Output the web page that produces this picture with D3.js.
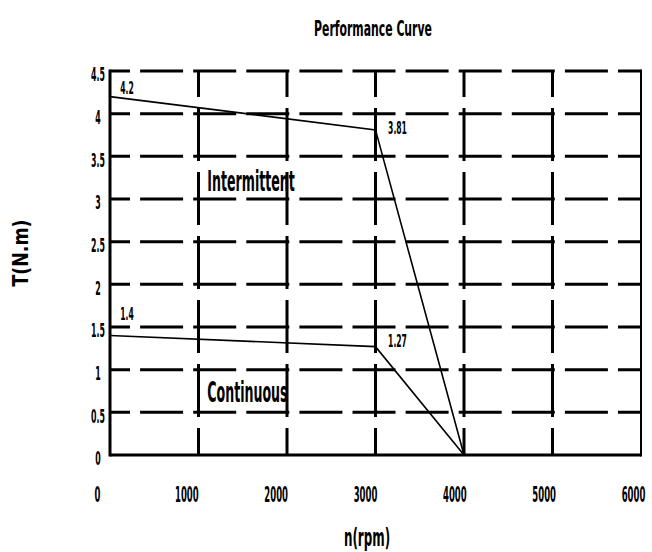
<!DOCTYPE html>
<html>
<head>
<meta charset="utf-8">
<script src="https://cdn.jsdelivr.net/npm/d3@7"></script>
<style>
	body {margin: 0; background: #fff;}
	svg text {font-family: "Liberation Sans Narrow", "DejaVu Sans Condensed", sans-serif; font-weight: bold; fill: #000;}
</style>
</head>
<body>
<svg width="652" height="552"></svg>
<script>
'use strict';
// chart data
let aSpeedTicks = [0, 1000, 2000, 3000, 4000, 5000, 6000]
let aTorqueTicks = [0, 0.5, 1, 1.5, 2, 2.5, 3, 3.5, 4, 4.5]
let aIntermittent = [[0, 4.2], [3000, 3.81], [4000, 0]]
let aContinuous = [[0, 1.4], [3000, 1.27], [4000, 0]]
let aPointLabels = [
	{n: 0, t: 4.2, text: "4.2"},
	{n: 3000, t: 3.81, text: "3.81"},
	{n: 0, t: 1.4, text: "1.4"},
	{n: 3000, t: 1.27, text: "1.27"}]
let aRegionLabels = [
	{n: 1100, t: 3.21, text: "Intermittent"},
	{n: 1100, t: 0.74, text: "Continuous"}]

// label nudges (pixels), same order as aPointLabels
let aLabelNudge = [[17, -9], [22, -2], [17, -22], [22, -6]]

let eSvg = d3.select("svg")

let x = d3.scaleLinear().domain([0, 6000]).range([110, 641])
let xLabel = d3.scaleLinear().domain([0, 6000]).range([97, 633]) // tick text sits a bit left
let y = d3.scaleLinear().domain([0, 4.5]).range([455, 71])

// the drawing font is very narrow, so squeeze the glyphs sideways
function squeeze(sel, k) {
	sel.each(function() {
		let e = d3.select(this)
		let px = +e.attr("x") || 0, py = +e.attr("y") || 0
		let pre = e.attr("transform") || ""
		e.attr("x", 0).attr("y", 0)
			.attr("transform", `${pre} translate(${px},${py}) scale(${k},1)`)})}

// grid
let eGrid = eSvg.append("g").attr("stroke", "#000").attr("fill", "none")
eGrid.selectAll("line.h")
	.data(aTorqueTicks.slice(1))
	.enter().append("line")
	.attr("class", "h")
	.attr("x1", x(0)).attr("x2", x(6000))
	.attr("y1", d => y(d)).attr("y2", d => y(d))
	.attr("stroke-width", 3)
	.attr("stroke-dasharray", "43,10.1")
	.attr("stroke-dashoffset", 23)
eGrid.selectAll("line.v")
	.data(aSpeedTicks.slice(1, -1))
	.enter().append("line")
	.attr("class", "v")
	.attr("x1", d => x(d)).attr("x2", d => x(d))
	.attr("y1", y(4.5)).attr("y2", y(0))
	.attr("stroke-width", 3)
	.attr("stroke-dasharray", "53,11")
	.attr("stroke-dashoffset", 27)
// solid frame: left, bottom, right
eGrid.append("line").attr("x1", x(0)).attr("x2", x(0)).attr("y1", y(4.5) - 1.5).attr("y2", y(0) + 1.5).attr("stroke-width", 3)
eGrid.append("line").attr("x1", x(0)).attr("x2", x(6000)).attr("y1", y(0)).attr("y2", y(0)).attr("stroke-width", 3)
eGrid.append("line").attr("x1", x(6000)).attr("x2", x(6000)).attr("y1", y(4.5) - 1.5).attr("y2", y(0) + 1.5).attr("stroke-width", 2)

// curves
let line = d3.line().x(d => x(d[0])).y(d => y(d[1]))
eSvg.selectAll("path.curve")
	.data([aIntermittent, aContinuous])
	.enter().append("path")
	.attr("class", "curve")
	.attr("d", line)
	.attr("fill", "none")
	.attr("stroke", "#000")
	.attr("stroke-width", 1.6)

// axes (text only, the frame is drawn above)
let xAxis = eSvg.append("g")
	.attr("transform", "translate(0,487)")
	.call(d3.axisBottom(xLabel).tickValues(aSpeedTicks).tickSize(0).tickPadding(0).tickFormat(d3.format("d")))
let yAxis = eSvg.append("g")
	.attr("transform", "translate(104,3)")
	.call(d3.axisLeft(y).tickValues(aTorqueTicks).tickSize(0).tickPadding(0).tickFormat(d => String(d)))
for (let a of [xAxis, yAxis]) {
	a.select(".domain").remove()
	a.selectAll("text").attr("font-family", null).attr("font-size", null)}
xAxis.selectAll("text").style("font-size", "21px")
yAxis.selectAll("text").style("font-size", "19px")
yAxis.selectAll("text").attr("text-anchor", "middle").attr("x", -6).attr("dy", "0.36em")
squeeze(xAxis.selectAll("text"), 0.45)
squeeze(yAxis.selectAll("text"), 0.46)

// point labels
eSvg.selectAll("text.pt")
	.data(aPointLabels)
	.enter().append("text")
	.attr("class", "pt")
	.attr("x", (d, i) => x(d.n) + aLabelNudge[i][0])
	.attr("y", (d, i) => y(d.t) + aLabelNudge[i][1])
	.attr("dy", "0.35em")
	.attr("text-anchor", "middle")
	.style("font-size", "17px")
	.text(d => d.text)
	.call(squeeze, 0.5)

eSvg.selectAll("text.region")
	.data(aRegionLabels)
	.enter().append("text")
	.attr("class", "region")
	.attr("x", d => x(d.n))
	.attr("y", d => y(d.t))
	.attr("dy", "0.35em")
	.style("font-size", "28px")
	.text(d => d.text)
	.call(squeeze, 0.5)

// titles
eSvg.append("text")
	.attr("x", 373).attr("y", 28).attr("dy", "0.35em")
	.attr("text-anchor", "middle")
	.style("font-size", "22px")
	.text("Performance Curve")
	.call(squeeze, 0.55)
eSvg.append("text")
	.attr("x", 367).attr("y", 537).attr("dy", "0.35em")
	.attr("text-anchor", "middle")
	.style("font-size", "25px")
	.text("n(rpm)")
	.call(squeeze, 0.53)
eSvg.append("text")
	.attr("transform", "translate(20,253) rotate(-90) scale(0.88,1)")
	.attr("dy", "0.35em")
	.attr("text-anchor", "middle")
	.style("font-size", "22px")
	.text("T(N.m)")
</script>
</body>
</html>
